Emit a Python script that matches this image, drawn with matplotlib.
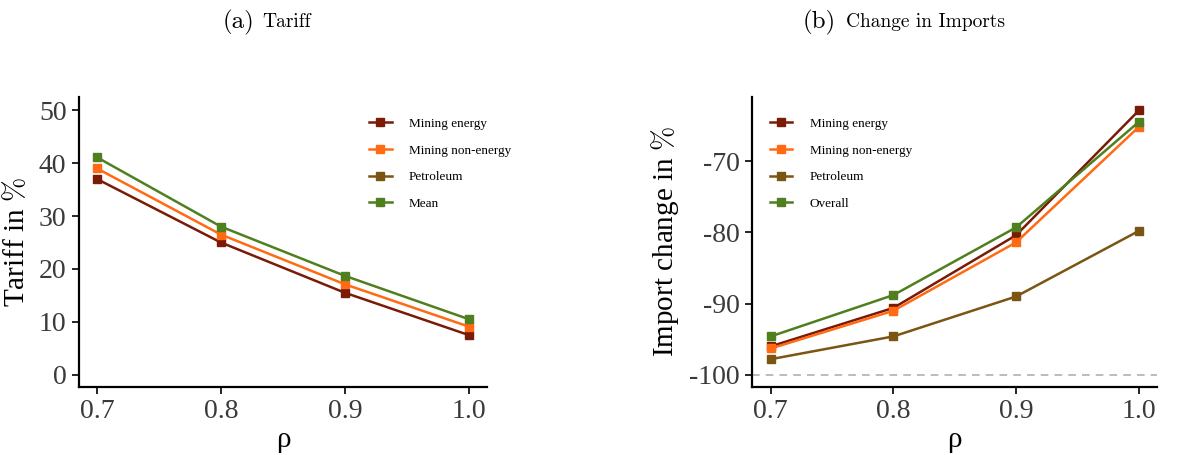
import numpy as np
import matplotlib
matplotlib.use("Agg")
import matplotlib.pyplot as plt

# data
rho = [0.7, 0.8, 0.9, 1.0]

tariff_mining_energy = [37.0, 25.0, 15.5, 7.5]
tariff_mining_nonenergy = [39.0, 26.5, 17.1, 9.1]
tariff_petroleum = [np.nan, np.nan, np.nan, np.nan]  # not drawn in panel (a)
tariff_mean = [41.1, 28.0, 18.7, 10.5]

imp_mining_energy = [-96.0, -90.6, -80.4, -62.9]
imp_mining_nonenergy = [-96.3, -91.0, -81.4, -65.2]
imp_petroleum = [-97.8, -94.6, -89.0, -79.8]
imp_overall = [-94.6, -88.8, -79.3, -64.5]

names_a = ["Mining energy", "Mining non-energy", "Petroleum", "Mean"]
names_b = ["Mining energy", "Mining non-energy", "Petroleum", "Overall"]
colors = ["#7a1b07", "#ff6a13", "#7b5512", "#4f7f1f"]

plt.rcParams["font.family"] = ["Liberation Serif", "DejaVu Serif"]
plt.rcParams["mathtext.fontset"] = "cm"
plt.rcParams["axes.unicode_minus"] = False

fig = plt.figure(figsize=(11.77, 4.55), dpi=100)
ax1 = fig.add_axes([0.0671, 0.1495, 0.3466, 0.6374])
ax2 = fig.add_axes([0.639, 0.1495, 0.344, 0.6374])


def style(ax):
    for s in ["top", "right"]:
        ax.spines[s].set_visible(False)
    for s in ["left", "bottom"]:
        ax.spines[s].set_linewidth(1.6)
    ax.tick_params(axis="both", labelsize=20, length=5, width=1.2,
                   colors="black", labelcolor="#3a3a3a", pad=4)
    ax.set_xticks(rho)
    ax.set_xticklabels(["0.7", "0.8", "0.9", "1.0"])
    ax.set_xlabel("ρ", fontsize=21, labelpad=2)


leg_kw = dict(loc="upper left", frameon=False, fontsize=9.5,
              labelspacing=1.1, handlelength=1.7, handletextpad=1.3)

# Panel (a)
for vals, name, c in zip([tariff_mining_energy, tariff_mining_nonenergy,
                          tariff_petroleum, tariff_mean], names_a, colors):
    ax1.plot(rho, vals, color=c, lw=1.8, marker="s", ms=6, label=name)
style(ax1)
ax1.set_xlim(0.6855, 1.0145)
ax1.set_ylim(-2.3, 52.5)
ax1.set_yticks([0, 10, 20, 30, 40, 50])
ax1.set_ylabel(r"Tariff in $\%$", fontsize=21, labelpad=6)
ax1.legend(bbox_to_anchor=(0.682, 0.97), **leg_kw)

# Panel (b)
ax2.axhline(-100, color="#aaaaaa", lw=1.1, ls=(0, (5, 4)))
for vals, name, c in zip([imp_mining_energy, imp_mining_nonenergy,
                          imp_petroleum, imp_overall], names_b, colors):
    ax2.plot(rho, vals, color=c, lw=1.8, marker="s", ms=6, label=name)
style(ax2)
ax2.set_xlim(0.6848, 1.0148)
ax2.set_ylim(-101.7, -61.0)
ax2.set_yticks([-100, -90, -80, -70])
ax2.set_ylabel(r"Import change in $\%$", fontsize=21, labelpad=6)
ax2.legend(bbox_to_anchor=(0.015, 0.97), **leg_kw)

# Panel titles
fig.text(254 / 1177, 1 - 22 / 455, "(a)", fontsize=18, family="cmr10",
         ha="right", va="center")
fig.text(262 / 1177, 1 - 22 / 455, "Tariff", fontsize=14, family="cmr10",
         ha="left", va="center")
fig.text(836 / 1177, 1 - 22 / 455, "(b)", fontsize=18, family="cmr10",
         ha="right", va="center")
fig.text(846 / 1177, 1 - 22 / 455, "Change in Imports", fontsize=14,
         family="cmr10", ha="left", va="center")

fig.savefig("out.png", dpi=100)
